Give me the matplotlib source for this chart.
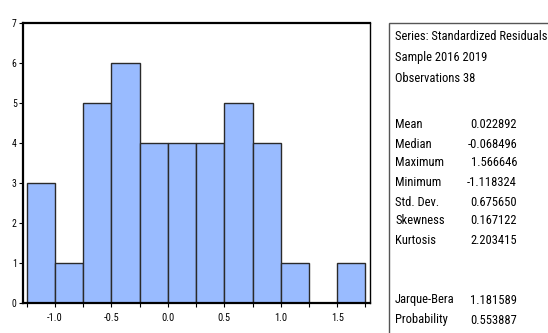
import numpy as np
import matplotlib
matplotlib.use("Agg")
import matplotlib.pyplot as plt
from matplotlib.patches import Rectangle
from matplotlib import font_manager

# Histogram of standardized residuals (bin width 0.25)
bin_edges = [-1.25, -1.0, -0.75, -0.5, -0.25, 0.0, 0.25, 0.5, 0.75, 1.0, 1.25, 1.5, 1.75]
counts = [3, 1, 5, 6, 4, 4, 4, 5, 4, 1, 0, 1]

x_tick_labels = ["-1.0", "-0.5", "0.0", "0.5", "1.0", "1.5"]
x_tick_values = [-1.0, -0.5, 0.0, 0.5, 1.0, 1.5]

header_lines = ["Series: Standardized Residuals", "Sample 2016 2019", "Observations 38"]
stat_names = ["Mean", "Median", "Maximum", "Minimum", "Std. Dev.", "Skewness", "Kurtosis"]
stat_values = ["0.022892", "-0.068496", "1.566646", "-1.118324", "0.675650", "0.167122", "2.203415"]
test_names = ["Jarque-Bera", "Probability"]
test_values = ["1.181589", "0.553887"]

W, H = 548, 333
fig = plt.figure(figsize=(W / 100, H / 100), dpi=100)

# Prefer a condensed sans face when one is available
names = {f.name for f in font_manager.fontManager.ttflist}
narrow = [n for n in ["Liberation Sans Narrow", "Arial Narrow", "Roboto Condensed",
                      "Open Sans Condensed", "DejaVu Sans Condensed"] if n in names]
font = narrow[0] if narrow else "Liberation Sans"
plt.rcParams["font.family"] = [font, "DejaVu Sans"]
fs = 9 if narrow else 8

# Histogram axes
ax = fig.add_axes([23 / W, 1 - 303 / H, (370 - 23) / W, (303 - 23) / H])
widths = np.diff(bin_edges)
ax.bar(bin_edges[:-1], counts, width=widths, align="edge",
       color="#99bbff", edgecolor="#2a2a2a", linewidth=1.0)
ax.set_xlim(-1.283, 1.79)
ax.set_ylim(0, 7)
ax.set_yticks(range(0, 8))
ax.set_yticklabels([str(i) for i in range(0, 8)], fontsize=7)
ax.set_xticks(bin_edges)
ax.set_xticklabels([x_tick_labels[x_tick_values.index(e)] if e in x_tick_values else "" for e in bin_edges],
                   fontsize=7.5)
ax.tick_params(axis="y", length=3, width=0.8, pad=1.5)
ax.tick_params(axis="x", length=3, width=0.8, pad=4)
for side in ["left", "bottom", "top"]:
    ax.spines[side].set_linewidth(1.6)
ax.spines["right"].set_linewidth(1.0)

# Summary statistics box
box_left = 389
fig.patches.append(Rectangle((box_left / W, -0.1), 1.0, 1 - 23 / H + 0.1,
                             transform=fig.transFigure, fill=False,
                             edgecolor="#555555", linewidth=1.0))

y_header = [37, 58, 79]
for txt, y in zip(header_lines, y_header):
    fig.text(395 / W, 1 - y / H, txt, fontsize=fs, va="center", ha="left")

row_y = [125, 144, 163, 182, 202, 221, 240]
for name, val, y in zip(stat_names, stat_values, row_y):
    fig.text(395 / W, 1 - y / H, name, fontsize=fs, va="center", ha="left")
    fig.text(517 / W, 1 - y / H, val, fontsize=fs, va="center", ha="right")

for name, val, y in zip(test_names, test_values, [300, 320]):
    fig.text(395 / W, 1 - y / H, name, fontsize=fs, va="center", ha="left")
    fig.text(517 / W, 1 - y / H, val, fontsize=fs, va="center", ha="right")

fig.savefig("out.png", dpi=100)
